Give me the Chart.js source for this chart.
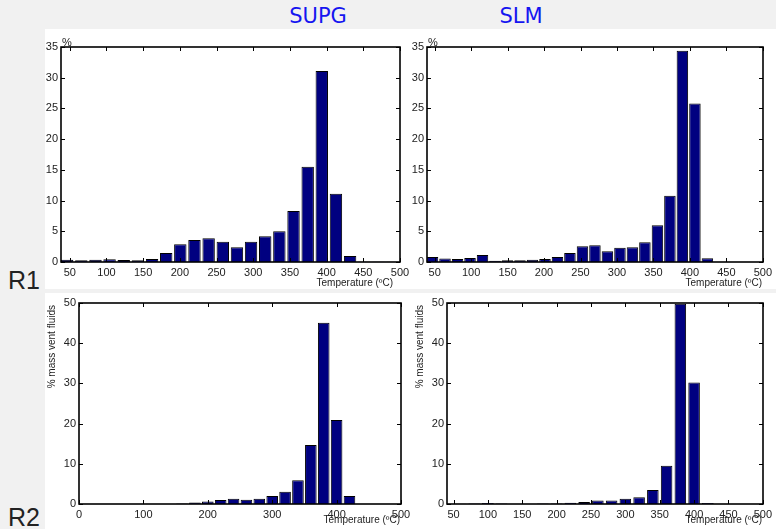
<!DOCTYPE html>
<html>
<head>
<meta charset="utf-8">
<script src="https://cdn.jsdelivr.net/npm/chart.js@4.4.1/dist/chart.umd.min.js"></script>
<style>
  body { margin: 0; width: 776px; height: 529px; background: #f1f1f1; position: relative; overflow: hidden; }
  .sheet { position: absolute; background: #fff; }
  canvas { position: absolute; left: 0; top: 0; }
  .head { position: absolute; font-family: "DejaVu Sans", sans-serif; font-size: 21px; color: #1515f0; transform: translateX(-50%); }
  .row { position: absolute; left: 8px; font-family: "Liberation Sans", Arial, sans-serif; font-size: 25px; color: #222; }
</style>
</head>
<body>
<div class="sheet" style="left:45px;top:29px;width:731px;height:260px"></div>
<div class="sheet" style="left:45px;top:293px;width:731px;height:236px"></div>
<div class="head" style="left:318px;top:4px">SUPG</div>
<div class="head" style="left:521px;top:4px">SLM</div>
<div class="row" style="top:266px">R1</div>
<div class="row" style="top:503px">R2</div>
<canvas id="supgR1" width="776" height="529"></canvas>
<canvas id="slmR1" width="776" height="529"></canvas>
<canvas id="supgR2" width="776" height="529"></canvas>
<canvas id="slmR2" width="776" height="529"></canvas>
<script>
// ── data ──────────────────────────────────────────────────
const SUPG_R1_BINS = [46.4, 65.7, 85.0, 104.2, 123.5, 142.8, 162.1, 181.4, 200.6, 219.9, 239.2, 258.5,
                      277.8, 297.0, 316.3, 335.6, 354.9, 374.2, 393.4, 412.7, 432.0, 451.3, 470.6, 489.8];
const SUPG_R1_PCT  = [0.38, 0.27, 0.38, 0.45, 0.33, 0.27, 0.5, 1.48, 2.9, 3.6, 3.85, 3.3,
                      2.4, 3.3, 4.2, 5.0, 8.3, 15.5, 31.1, 11.1, 0.98, 0.06, 0.05, 0.03];

const SLM_R1_BINS = [47.1, 64.2, 81.4, 98.5, 115.6, 132.8, 149.9, 167.0, 184.1, 201.3, 218.4, 235.5,
                     252.7, 269.8, 286.9, 304.1, 321.2, 338.3, 355.5, 372.6, 389.7, 406.9, 424.0];
const SLM_R1_PCT  = [0.8, 0.55, 0.5, 0.65, 1.15, 0.2, 0.27, 0.27, 0.38, 0.5, 0.8, 1.48,
                     2.58, 2.74, 1.75, 2.3, 2.4, 3.2, 6.0, 10.8, 34.4, 25.8, 0.6];

const SUPG_R2_BINS = [160, 180, 200, 220, 240, 260, 280, 300, 320, 340, 360, 380, 400, 420];
const SUPG_R2_MASS = [0.1, 0.35, 0.65, 1.0, 1.3, 1.05, 1.3, 2.0, 3.05, 5.9, 14.7, 45.1, 20.9, 2.0];

const SLM_R2_BINS = [60, 80, 100, 120, 180, 200, 220, 240, 260, 280, 300, 320, 340, 360, 380, 400, 420];
const SLM_R2_MASS = [0.05, 0.1, 0.25, 0.1, 0.1, 0.15, 0.33, 0.5, 0.9, 0.9, 1.3, 1.65, 3.5, 9.5, 49.8, 30.2, 0.25];

const X_TICKS      = [50, 100, 150, 200, 250, 300, 350, 400, 450, 500];
const X_TICKS_WIDE = [0, 100, 200, 300, 400, 500];
const Y_TICKS_R1   = [0, 5, 10, 15, 20, 25, 30, 35];
const Y_TICKS_R2   = [0, 10, 20, 30, 40, 50];

const X_TITLE = 'Temperature (ºC)';
const Y_TITLE_R2 = '% mass vent fluids';

// ── layout ───────────────────────────────────────────────
const W = 776, H = 529, YW = 30, XH = 22;
const FONT = '"Liberation Sans", Arial, sans-serif';
const BAR_FILL = '#000080';

// box with inward ticks on all four sides, plus the axis captions
const matlabAxes = {
  id: 'matlabAxes',
  afterDatasetsDraw(chart, args, o) {
    const { ctx, chartArea: a, scales: { x, y } } = chart;
    const L = Math.round(a.left), R = Math.round(a.right), T = Math.round(a.top), B = Math.round(a.bottom);
    ctx.save();
    ctx.strokeStyle = '#000';
    ctx.lineWidth = 1.6;
    ctx.strokeRect(L, T, R - L, B - T);
    ctx.lineWidth = 1;
    ctx.beginPath();
    x.ticks.forEach(t => {
      const px = Math.round(x.getPixelForValue(t.value)) + 0.5;
      ctx.moveTo(px, B); ctx.lineTo(px, B - 4);
      ctx.moveTo(px, T); ctx.lineTo(px, T + 4);
    });
    y.ticks.forEach(t => {
      const py = Math.round(y.getPixelForValue(t.value)) + 0.5;
      ctx.moveTo(L, py); ctx.lineTo(L + 4, py);
      ctx.moveTo(R, py); ctx.lineTo(R - 4, py);
    });
    ctx.stroke();

    ctx.fillStyle = '#222';
    ctx.font = '10px ' + FONT;
    ctx.textAlign = 'right';
    ctx.textBaseline = 'middle';
    ctx.fillText(X_TITLE, R - (o.xTitleInset || 0), B + o.xTitleDrop);
    if (o.unit) {
      ctx.font = '11px ' + FONT;
      ctx.textAlign = 'left';
      ctx.textBaseline = 'bottom';
      ctx.fillText(o.unit, L + 1, T + 1);
    }
    if (o.yTitle) {
      ctx.translate(L - 27, T + 2);
      ctx.rotate(-Math.PI / 2);
      ctx.font = '10px ' + FONT;
      ctx.textAlign = 'right';
      ctx.textBaseline = 'middle';
      ctx.fillText(o.yTitle, 0, 0);
    }
    ctx.restore();
  }
};

function makePanel(canvasId, p) {
  const tickFont = { family: FONT, size: 11 };
  return new Chart(document.getElementById(canvasId), {
    type: 'bar',
    data: {
      datasets: [{
        data: p.bins.map((b, i) => ({ x: b, y: p.values[i] })),
        backgroundColor: BAR_FILL,
        borderColor: '#000',
        borderWidth: 1,
        barPercentage: p.barFrac,
        categoryPercentage: 1,
      }],
    },
    options: {
      responsive: false, animation: false,
      layout: { padding: { left: p.box.l - YW, top: p.box.t, right: W - p.box.r, bottom: H - p.box.b - XH } },
      plugins: {
        legend: { display: false }, tooltip: { enabled: false },
        matlabAxes: { unit: p.unit, yTitle: p.yTitle, xTitleDrop: p.xTitleDrop, xTitleInset: p.xTitleInset },
      },
      scales: {
        x: {
          type: 'linear', min: p.xMin, max: 500, offset: false,
          grid: { display: false, drawTicks: false }, border: { display: false },
          afterBuildTicks: s => { s.ticks = p.xTicks.map(v => ({ value: v })); },
          afterFit: s => { s.height = XH; },
          ticks: { padding: 4, maxRotation: 0, autoSkip: false, color: '#222', font: tickFont },
        },
        y: {
          min: 0, max: p.yTicks[p.yTicks.length - 1],
          grid: { display: false, drawTicks: false }, border: { display: false },
          afterBuildTicks: s => { s.ticks = p.yTicks.map(v => ({ value: v })); },
          afterFit: s => { s.width = YW; },
          ticks: { padding: 3, color: '#222', font: tickFont },
        },
      },
    },
    plugins: [matlabAxes],
  });
}

makePanel('supgR1', { bins: SUPG_R1_BINS, values: SUPG_R1_PCT, xMin: 38, xTicks: X_TICKS, yTicks: Y_TICKS_R1,
  unit: '%', barFrac: 0.88, box: { l: 61, t: 47, r: 400, b: 262 }, xTitleDrop: 21, xTitleInset: 7 });
makePanel('slmR1', { bins: SLM_R1_BINS, values: SLM_R1_PCT, xMin: 39.5, xTicks: X_TICKS, yTicks: Y_TICKS_R1,
  unit: '%', barFrac: 0.92, box: { l: 427, t: 47, r: 766, b: 262 }, xTitleDrop: 21, xTitleInset: 1 });
makePanel('supgR2', { bins: SUPG_R2_BINS, values: SUPG_R2_MASS, xMin: 0, xTicks: X_TICKS_WIDE, yTicks: Y_TICKS_R2,
  yTitle: Y_TITLE_R2, barFrac: 0.9, box: { l: 79, t: 303, r: 401, b: 504 }, xTitleDrop: 16, xTitleInset: 1 });
makePanel('slmR2', { bins: SLM_R2_BINS, values: SLM_R2_MASS, xMin: 40.5, xTicks: X_TICKS, yTicks: Y_TICKS_R2,
  yTitle: Y_TITLE_R2, barFrac: 0.84, box: { l: 447, t: 303, r: 766, b: 504 }, xTitleDrop: 16, xTitleInset: 1 });
</script>
</body>
</html>
